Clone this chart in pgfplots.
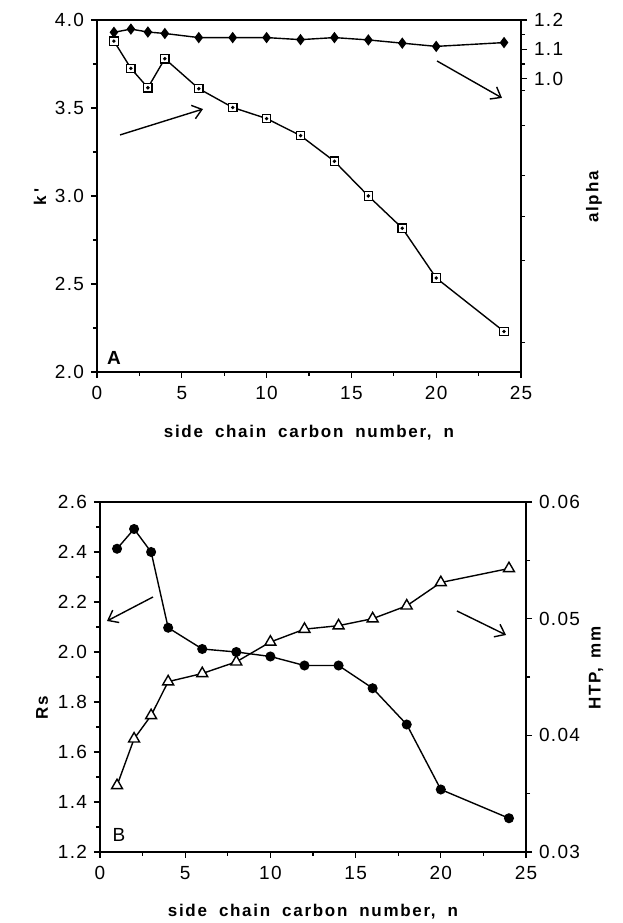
\documentclass[border=0pt]{standalone}
\usepackage{pgfplots}
\pgfplotsset{compat=1.18}
\usetikzlibrary{arrows.meta}
\usepackage{fontspec}
\setmainfont{Liberation Sans}
\newfontfamily\lblfont[LetterSpace=10]{Liberation Sans}
\newfontfamily\ticfont[LetterSpace=7]{Liberation Sans}
\begin{document}
\begin{tikzpicture}
\useasboundingbox (0pt,0pt) rectangle (622pt,923pt);
\pgfplotsset{
  every axis/.append style={
    scale only axis,
    line width=1.4pt,
    every tick/.style={line width=1.3pt, black},
    tick align=outside,
    major tick length=6pt,
    minor tick length=4pt,
    tick label style={font=\ticfont\fontsize{19}{21}\selectfont},
    xticklabel style={yshift=-4pt},
    yticklabel style={xshift=-3pt},
    /pgf/number format/assume math mode=true,
    scaled ticks=false,
  },
}
% ---------------- Panel A ----------------
\begin{axis}[at={(97pt,551pt)}, anchor=south west, width=424pt, height=352pt,
  xmin=0, xmax=25, ymin=2, ymax=4,
  xtick={0,5,...,25}, minor x tick num=1,
  ytick={2,2.5,3,3.5,4}, minor y tick num=1,
  xtick pos=bottom, ytick pos=left,
  yticklabel style={/pgf/number format/fixed, /pgf/number format/fixed zerofill, /pgf/number format/precision=1},
  clip=false]
\addplot[black, line width=1.4pt, mark=square*, mark size=4.2pt, mark options={fill=white, line width=1.3pt}]
  coordinates {(1,3.88)(2,3.725)(3,3.615)(4,3.78)(6,3.61)(8,3.503)(10,3.44)(12,3.343)(14,3.197)(16,3.0)(18,2.817)(20,2.534)(24,2.23)};
\addplot[black, only marks, mark=*, mark size=0.9pt]
  coordinates {(1,3.88)(2,3.725)(3,3.615)(4,3.78)(6,3.61)(8,3.503)(10,3.44)(12,3.343)(14,3.197)(16,3.0)(18,2.817)(20,2.534)(24,2.23)};
\draw[line width=1.4pt, -{Straight Barb[length=9pt,width=14pt]}] (axis cs:1.36,3.347) -- (axis cs:6.25,3.494);
\draw[line width=1.4pt, -{Straight Barb[length=9pt,width=14pt]}] (axis cs:20.05,3.767) -- (axis cs:23.88,3.557);
\node[anchor=south west, font=\fontsize{19}{20}\selectfont\bfseries, inner sep=0pt] at (axis cs:0.55,2.04) {A};
\end{axis}
\begin{axis}[at={(97pt,551pt)}, anchor=south west, width=424pt, height=352pt,
  xmin=0, xmax=25, ymin=0, ymax=1.2,
  axis x line=none, axis y line*=right,
  ytick={1.0,1.1,1.2},
  minor ytick={1.05,1.15},
  extra y ticks={0.1,0.38,0.53,0.67,0.84,0.96},
  extra y tick labels={},
  extra y tick style={major tick length=4pt},
  yticklabel style={xshift=6pt, /pgf/number format/fixed, /pgf/number format/fixed zerofill, /pgf/number format/precision=1}]
\addplot[black, line width=1.4pt, mark=diamond*, mark size=4.6pt]
  coordinates {(1,1.158)(2,1.169)(3,1.159)(4,1.154)(6,1.14)(8,1.14)(10,1.14)(12,1.133)(14,1.14)(16,1.132)(18,1.121)(20,1.11)(24,1.123)};
\end{axis}
% ---------------- Panel B ----------------
\begin{axis}[at={(100pt,71pt)}, anchor=south west, width=426pt, height=350pt,
  xmin=0, xmax=25, ymin=1.2, ymax=2.6,
  xtick={0,5,...,25}, minor x tick num=1,
  ytick={1.2,1.4,...,2.61}, minor y tick num=1,
  xtick pos=bottom, ytick pos=left,
  yticklabel style={/pgf/number format/fixed, /pgf/number format/fixed zerofill, /pgf/number format/precision=1},
  clip=false]
\addplot[black, line width=1.4pt, mark=*, mark size=4.3pt]
  coordinates {(1,2.413)(2,2.492)(3,2.40)(4,2.097)(6,2.012)(8,2.0)(10,1.982)(12,1.946)(14,1.946)(16,1.855)(18,1.71)(20,1.45)(24,1.335)};
\draw[line width=1.4pt, -{Straight Barb[length=9pt,width=14pt]}] (axis cs:3.11,2.22) -- (axis cs:0.41,2.124);
\draw[line width=1.4pt, -{Straight Barb[length=9pt,width=14pt]}] (axis cs:20.95,2.164) -- (axis cs:23.83,2.068);
\node[anchor=south west, font=\fontsize{19}{20}\selectfont, inner sep=0pt] at (axis cs:0.7,1.24) {B};
\end{axis}
\begin{axis}[at={(100pt,71pt)}, anchor=south west, width=426pt, height=350pt,
  xmin=0, xmax=25, ymin=0.03, ymax=0.06,
  axis x line=none, axis y line*=right,
  ytick={0.03,0.04,0.05,0.06}, minor y tick num=1,
  yticklabel style={xshift=6pt, /pgf/number format/fixed, /pgf/number format/fixed zerofill, /pgf/number format/precision=2}]
\addplot[black, line width=1.4pt, mark=triangle*, mark size=6.3pt, mark options={fill=white, line width=1.4pt}]
  coordinates {(1,0.0357)(2,0.0397)(3,0.0417)(4,0.0446)(6,0.0453)(8,0.0463)(10,0.0480)(12,0.0491)(14,0.0494)(16,0.0500)(18,0.0511)(20,0.0531)(24,0.0543)};
\end{axis}
% ---------------- Labels ----------------
\node[rotate=90, font=\lblfont\fontsize{17}{18}\selectfont\bfseries] at (40pt,726pt) {k\,'};
\node[rotate=90, font=\lblfont\fontsize{17}{18}\selectfont\bfseries] at (594pt,726pt) {alpha};
\node[rotate=90, font=\lblfont\fontsize{17}{18}\selectfont\bfseries] at (42pt,215pt) {Rs};
\node[rotate=90, font=\lblfont\fontsize{17}{18}\selectfont\bfseries] at (596pt,255pt) {HTP,\hspace{10pt}mm};
\node[font=\lblfont\fontsize{17}{18}\selectfont\bfseries] at (309pt,490pt) {side\hspace{12pt}chain\hspace{12pt}carbon\hspace{12pt}number,\hspace{12pt}n};
\node[font=\lblfont\fontsize{17}{18}\selectfont\bfseries] at (313pt,11pt) {side\hspace{12pt}chain\hspace{12pt}carbon\hspace{12pt}number,\hspace{12pt}n};
\end{tikzpicture}
\end{document}
